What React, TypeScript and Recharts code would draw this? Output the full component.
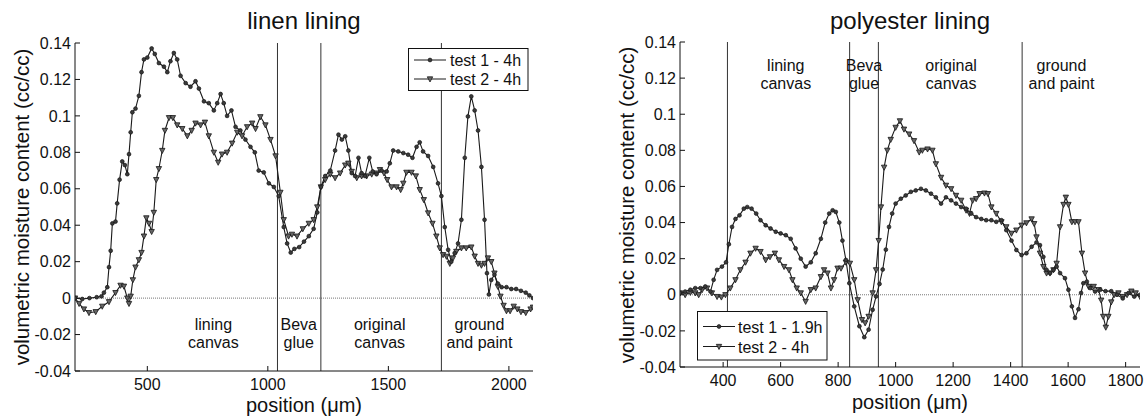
import React from 'react';
import { LineChart, Line, XAxis, YAxis, ReferenceLine, ReferenceDot } from 'recharts';

const FF = '"Liberation Sans", Arial, Helvetica, sans-serif';

// ---------- linen lining ----------
const linenPos1 = [200,230,260,290,310,320,334,341,348,355,368,375,385,396,407,417,424,431,438,451,465,476,486,500,518,531,548,569,583,596,610,624,638,659,679,700,714,735,755,776,790,804,817,831,849,866,886,907,928,946,962,983,1004,1025,1045,1066,1080,1095,1110,1130,1150,1170,1190,1205,1220,1238,1259,1279,1293,1307,1321,1334,1348,1362,1376,1389,1403,1421,1435,1451,1472,1493,1506,1520,1541,1562,1582,1600,1617,1630,1644,1665,1686,1706,1720,1734,1748,1761,1775,1789,1803,1817,1830,1844,1858,1872,1886,1899,1909,1917,1927,1940,1954,1970,1990,2010,2030,2050,2070,2085,2100];
const linenVal1 = [0,-0.0005,0,0.0005,0.001,0.003,0.006,0.017,0.026,0.041,0.042,0.052,0.065,0.075,0.073,0.068,0.079,0.091,0.102,0.104,0.111,0.124,0.131,0.132,0.137,0.134,0.129,0.127,0.124,0.13,0.1345,0.131,0.122,0.118,0.116,0.119,0.115,0.108,0.107,0.103,0.107,0.112,0.107,0.1,0.103,0.094,0.092,0.087,0.083,0.08,0.07,0.069,0.063,0.061,0.056,0.039,0.03,0.025,0.027,0.028,0.031,0.034,0.038,0.047,0.061,0.067,0.07,0.081,0.0897,0.087,0.0888,0.081,0.0686,0.067,0.077,0.0686,0.067,0.077,0.0695,0.068,0.07,0.0695,0.074,0.081,0.0805,0.0796,0.0787,0.077,0.083,0.0855,0.0805,0.078,0.072,0.063,0.056,0.039,0.0265,0.02,0.0247,0.03,0.043,0.077,0.0997,0.1107,0.103,0.092,0.072,0.043,0.0137,0.002,0.01,0.0128,0.008,0.006,0.006,0.005,0.005,0.004,0.003,0.0015,0];
const linenPos2 = [200,217,237,258,286,313,341,368,389,403,417,424,431,440,451,465,476,486,496,507,518,527,537,548,562,573,590,606,624,645,666,684,700,721,739,755,776,794,810,831,852,873,893,914,935,949,969,990,1011,1032,1052,1066,1086,1100,1121,1145,1170,1190,1205,1220,1238,1259,1279,1300,1321,1334,1348,1369,1389,1410,1431,1451,1465,1482,1495,1513,1534,1551,1562,1575,1596,1614,1630,1647,1665,1683,1699,1713,1727,1741,1755,1768,1782,1803,1823,1844,1858,1872,1886,1899,1913,1927,1940,1954,1965,1978,1990,2005,2020,2035,2050,2070,2090,2100];
const linenVal2 = [0,-0.003,-0.006,-0.008,-0.0075,-0.0045,-0.002,0.003,0.007,0.0065,0,-0.003,0.001,0.01,0.017,0.021,0.025,0.034,0.044,0.041,0.0365,0.047,0.065,0.071,0.081,0.092,0.099,0.099,0.095,0.093,0.089,0.092,0.096,0.095,0.0965,0.089,0.08,0.0745,0.079,0.08,0.085,0.091,0.089,0.094,0.096,0.093,0.0995,0.095,0.087,0.078,0.058,0.043,0.034,0.035,0.034,0.038,0.041,0.043,0.05,0.061,0.065,0.068,0.066,0.0686,0.073,0.074,0.0695,0.066,0.067,0.067,0.068,0.0686,0.0705,0.0686,0.065,0.061,0.061,0.0595,0.063,0.069,0.069,0.067,0.0595,0.054,0.0467,0.041,0.034,0.0275,0.0238,0.0229,0.019,0.022,0.0256,0.0275,0.0275,0.028,0.023,0.019,0.018,0.019,0.022,0.02,0.0137,0.0064,0.001,-0.004,-0.007,-0.007,-0.0045,-0.006,-0.0075,-0.008,-0.006,-0.005];
const linenBounds = [1040, 1220, 1720];
const linenRegionNames = [['lining', 'canvas'], ['Beva', 'glue'], ['original', 'canvas'], ['ground', 'and paint']];
const linenRegionPos = [774, 1128, 1464, 1878];
const linenRegionLevel = -0.0174;
const linenXTicks = [500, 1000, 1500, 2000];

// ---------- polyester lining ----------
const polyPos1 = [250,268,286,303,321,338,356,367,379,396,410,420,431,443,457,472,484,499,515,530,548,565,583,600,618,635,652,670,687,705,722,740,755,769,781,792,804,815,827,839,856,874,891,906,920,932,944,955,966,977,988,1000,1018,1035,1053,1070,1088,1105,1123,1140,1158,1175,1193,1210,1228,1245,1263,1280,1298,1315,1333,1350,1368,1385,1403,1420,1438,1455,1473,1490,1502,1514,1525,1537,1549,1560,1572,1589,1601,1613,1624,1636,1645,1653,1665,1677,1694,1712,1730,1750,1770,1790,1810,1830,1850];
const polyVal1 = [0.001,0.0018,0.0028,0.0037,0.0037,0.0046,0.0018,0.0083,0.0138,0.0156,0.018,0.028,0.0376,0.042,0.044,0.0477,0.0486,0.0477,0.045,0.0413,0.0385,0.0367,0.0349,0.034,0.033,0.031,0.0257,0.02,0.0156,0.018,0.023,0.031,0.04,0.045,0.0468,0.0459,0.04,0.03,0.0193,0.0064,-0.0064,-0.0174,-0.0235,-0.0193,-0.0083,-0.0009,0.006,0.014,0.025,0.0376,0.045,0.0505,0.0532,0.055,0.057,0.0578,0.0587,0.0578,0.056,0.054,0.0505,0.054,0.0523,0.0505,0.0486,0.0477,0.045,0.043,0.042,0.0413,0.0413,0.0404,0.0413,0.0358,0.03,0.0248,0.022,0.023,0.0266,0.029,0.0275,0.021,0.0138,0.012,0.0138,0.0156,0.012,0.0092,0.0028,-0.0064,-0.0128,-0.008,0.001,0.0064,0.0073,0.0037,0.0018,0.0028,0.002,0.002,0,-0.002,0.001,-0.001,0];
const polyPos2 = [250,268,286,303,315,327,344,361,379,394,408,425,443,460,478,495,513,530,548,563,580,594,612,629,641,656,670,687,705,722,740,751,763,775,786,798,810,827,841,856,868,883,894,906,920,932,941,949,960,971,983,1000,1015,1029,1047,1064,1082,1093,1111,1128,1140,1158,1175,1193,1210,1228,1245,1257,1268,1280,1292,1309,1321,1333,1350,1368,1385,1403,1420,1438,1455,1473,1482,1490,1502,1514,1525,1537,1549,1560,1572,1584,1592,1601,1613,1624,1636,1648,1659,1671,1689,1706,1715,1722,1731,1740,1750,1760,1775,1790,1805,1820,1835,1850];
const polyVal2 = [0.001,0,0.0013,0.001,0,0.0028,0.0037,0.001,-0.001,-0.0013,0,0.0037,0.0083,0.0138,0.018,0.023,0.0257,0.0239,0.0193,0.021,0.023,0.0193,0.0156,0.0138,0.0083,0.0037,0.001,-0.0037,0.0028,0.0037,0.01,0.0138,0.012,0.0037,0.0083,0.0147,0.0147,0.018,0.0174,0.0083,-0.0028,-0.0138,-0.0156,-0.012,0.001,0.0138,0.03,0.0486,0.0706,0.08,0.086,0.0927,0.0963,0.0917,0.089,0.0853,0.079,0.08,0.0807,0.08,0.0725,0.065,0.0606,0.0587,0.055,0.0523,0.0468,0.045,0.0523,0.0532,0.056,0.0563,0.056,0.0486,0.045,0.0404,0.0376,0.034,0.0358,0.0385,0.0398,0.042,0.0394,0.032,0.023,0.0156,0.012,0.012,0.0138,0.0174,0.0376,0.05,0.054,0.05,0.0404,0.0404,0.0404,0.023,0.012,0.0046,0.0046,0.0028,-0.003,-0.012,-0.018,-0.012,-0.004,0,0.001,-0.001,0,0.002,0.001,-0.001];
const polyBounds = [415, 840, 940, 1440];
const polyRegionNames = [['lining', 'canvas'], ['Beva', 'glue'], ['original', 'canvas'], ['ground', 'and paint']];
const polyRegionPos = [618, 890, 1193, 1577];
const polyRegionLevel = 0.1238;
const polyXTicks = [400, 600, 800, 1000, 1200, 1400, 1600, 1800];

const yTicks = [-0.04, -0.02, 0, 0.02, 0.04, 0.06, 0.08, 0.1, 0.12, 0.14];

const zip = (xs: number[], ys: number[]) => xs.map((x, i) => ({ x, y: ys[i] }));

const LINE = '#1a1a1a';

const CircleDot = (p: any) => {
  if (p.cx == null || p.cy == null) return null;
  return <circle key={p.key} cx={p.cx} cy={p.cy} r={1.9} fill="#3a3a3a" stroke="#161616" strokeWidth={0.7} />;
};
const TriDot = (p: any) => {
  if (p.cx == null || p.cy == null) return null;
  const s = 2.7;
  return (
    <path key={p.key}
      d={`M${p.cx - s},${p.cy - s * 0.8} L${p.cx + s},${p.cy - s * 0.8} L${p.cx},${p.cy + s * 1.1} Z`}
      fill="#666" stroke="#161616" strokeWidth={0.8} />
  );
};

const fmt = (v: number) => String(Number(v.toFixed(2)));

const regionShape = (lines: string[]) => (p: any) => (
  <text x={p.cx} y={p.cy} textAnchor="middle" fontSize={16} fill="#111" fontFamily={FF}>
    <tspan x={p.cx} dy={0}>{lines[0]}</tspan>
    <tspan x={p.cx} dy={18}>{lines[1]}</tspan>
  </text>
);

type PanelProps = {
  width: number; height: number; margin: any; yWidth: number; xHeight: number;
  domain: number[]; xTicks: number[]; s1: any[]; s2: any[];
  bounds: number[]; regionNames: string[][]; regionPos: number[]; regionLevel: number;
};

const Panel = (pp: PanelProps) => (
  <LineChart width={pp.width} height={pp.height} margin={pp.margin}>
    <XAxis xAxisId="b" type="number" dataKey="x" domain={pp.domain} ticks={pp.xTicks}
      allowDataOverflow tickSize={-5} tickMargin={12.5} height={pp.xHeight}
      stroke="#111" tick={{ fontSize: 16, fill: '#111', fontFamily: FF }} />
    <XAxis xAxisId="t" orientation="top" type="number" dataKey="x" domain={pp.domain} ticks={pp.xTicks}
      allowDataOverflow tickSize={-5} height={0} stroke="#111" tick={false} />
    <YAxis yAxisId="l" type="number" domain={[-0.04, 0.14]} ticks={yTicks} allowDataOverflow
      tickSize={-5} tickMargin={9} width={pp.yWidth} stroke="#111" tickFormatter={fmt}
      tick={{ fontSize: 16, fill: '#111', fontFamily: FF }} interval={0} />
    <YAxis yAxisId="r" orientation="right" type="number" domain={[-0.04, 0.14]} ticks={yTicks}
      allowDataOverflow tickSize={-5} width={0} stroke="#111" tick={false} />
    <ReferenceLine xAxisId="b" yAxisId="l" y={0} stroke="#777" strokeDasharray="1 1" strokeWidth={1} />
    {pp.bounds.map((b) => (
      <ReferenceLine key={'b' + b} xAxisId="b" yAxisId="l" x={b} stroke="#333" strokeWidth={1} />
    ))}
    {pp.regionNames.map((n, i) => (
      <ReferenceDot key={'r' + i} xAxisId="b" yAxisId="l" x={pp.regionPos[i]} y={pp.regionLevel}
        r={0} shape={regionShape(n)} />
    ))}
    <Line xAxisId="b" yAxisId="l" data={pp.s2} dataKey="y" type="linear" stroke={LINE} strokeWidth={1.1}
      dot={TriDot} isAnimationActive={false} />
    <Line xAxisId="b" yAxisId="l" data={pp.s1} dataKey="y" type="linear" stroke={LINE} strokeWidth={1.1}
      dot={CircleDot} isAnimationActive={false} />
  </LineChart>
);

const LegendSvg = ({ x, y, w, h, rows, labels, textX, lineX1, lineX2, markX, baseOff }: any) => (
  <g>
    <rect x={x} y={y} width={w} height={h} fill="#fff" stroke="#111" strokeWidth={1} />
    {labels.map((l: string, i: number) => (
      <g key={l}>
        <line x1={lineX1} x2={lineX2} y1={rows[i]} y2={rows[i]} stroke={LINE} strokeWidth={1} />
        {i === 0 ? <CircleDot cx={markX} cy={rows[i]} /> : <TriDot cx={markX} cy={rows[i]} />}
        <text x={textX} y={rows[i] + baseOff} fontSize={16} fill="#111" fontFamily={FF}>{l}</text>
      </g>
    ))}
  </g>
);

export default function App() {
  const linen1 = zip(linenPos1, linenVal1);
  const linen2 = zip(linenPos2, linenVal2);
  const poly1 = zip(polyPos1, polyVal1);
  const poly2 = zip(polyPos2, polyVal2);
  return (
    <div style={{ position: 'absolute', left: 0, top: 0, width: 1145, height: 419, background: '#fff', fontFamily: FF }}>
      <div style={{ position: 'absolute', left: 0, top: 0 }}>
        <Panel width={560} height={419} margin={{ top: 43, right: 27, bottom: 0, left: 0 }}
          yWidth={75} xHeight={48} domain={[200, 2100]} xTicks={linenXTicks}
          s1={linen1} s2={linen2} bounds={linenBounds} regionNames={linenRegionNames}
          regionPos={linenRegionPos} regionLevel={linenRegionLevel} />
      </div>
      <div style={{ position: 'absolute', left: 560, top: 0 }}>
        <Panel width={585} height={419} margin={{ top: 42, right: 5, bottom: 0, left: 45 }}
          yWidth={75} xHeight={52} domain={[250, 1850]} xTicks={polyXTicks}
          s1={poly1} s2={poly2} bounds={polyBounds} regionNames={polyRegionNames}
          regionPos={polyRegionPos} regionLevel={polyRegionLevel} />
      </div>
      <svg width={1145} height={419} style={{ position: 'absolute', left: 0, top: 0, pointerEvents: 'none' }}>
        <text x={304} y={28.5} textAnchor="middle" fontSize={24} fill="#111" fontFamily={FF}>linen lining</text>
        <text x={910} y={28.5} textAnchor="middle" fontSize={24} fill="#111" fontFamily={FF}>polyester lining</text>
        <text x={304} y={412} textAnchor="middle" fontSize={20} fill="#111" fontFamily={FF}>position (μm)</text>
        <text x={910} y={409} textAnchor="middle" fontSize={20} fill="#111" fontFamily={FF}>position (μm)</text>
        <text x={21} y={207} textAnchor="middle" dominantBaseline="central" fontSize={20.5} fill="#111" fontFamily={FF}
          transform="rotate(-90 21 207)">volumetric moisture content (cc/cc)</text>
        <text x={626} y={205} textAnchor="middle" dominantBaseline="central" fontSize={20.5} fill="#111" fontFamily={FF}
          transform="rotate(-90 626 205)">volumetric moisture content (cc/cc)</text>
        <LegendSvg x={408.5} y={48.5} w={119.5} h={42} rows={[60, 79]} labels={['test 1 - 4h', 'test 2 - 4h']}
          textX={450} lineX1={414} lineX2={446} markX={430} baseOff={6} />
        <LegendSvg x={697.5} y={311.5} w={129.5} h={48.5} rows={[326.5, 346.5]} labels={['test 1 - 1.9h', 'test 2 - 4h']}
          textX={738} lineX1={703} lineX2={735} markX={719} baseOff={6} />
      </svg>
    </div>
  );
}
